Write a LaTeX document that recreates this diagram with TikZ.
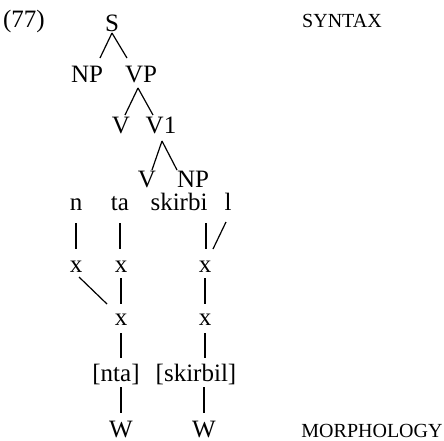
\documentclass[tikz,border=0pt]{standalone}
\usepackage{fontspec}
\setmainfont{Liberation Serif}

\begin{document}
\begin{tikzpicture}[x=0.5pt,y=-0.5pt,
    lab/.style = {inner sep=0pt,anchor=base,font=\fontsize{12.5}{15}\selectfont},
    lvl/.style = {inner sep=0pt,anchor=base,font=\fontsize{10}{12}\selectfont},
    br/.style  = {line width=0.6pt}]
\useasboundingbox (0,0) rectangle (444,440);
% syntax
\node[lab] (ex)   at (24,27)  {(77)};
\node[lab] (s)    at (112,31) {S};
\node[lab] (np)   at (87,82)  {NP};
\node[lab] (vp)   at (141,82) {VP};
\node[lab] (v)    at (121,133) {V};
\node[lab] (vbar) at (161,133) {V1};
\node[lab] (vv)   at (147,187) {V};
\node[lab] (npo)  at (193,187) {NP};
\node[lvl] (syn)  at (342,27) {SYNTAX};
\draw[br] ([shift={(0,2)}]s.base) -- ([shift={(13,-24)}]np.base);
\draw[br] ([shift={(0,2)}]s.base) -- ([shift={(-14,-24)}]vp.base);
\draw[br] ([shift={(-3,6)}]vp.base) -- ([shift={(4,-18)}]v.base);
\draw[br] ([shift={(-3,6)}]vp.base) -- ([shift={(-8,-18)}]vbar.base);
\draw[br] ([shift={(1,8)}]vbar.base) -- ([shift={(5,-17)}]vv.base);
\draw[br] ([shift={(1,8)}]vbar.base) -- ([shift={(-16,-17)}]npo.base);
% segments and skeleton
\foreach \nm/\px/\txt in {n/76/n, ta/120/ta, skirbi/179/skirbi, l/228/l}
    \node[lab] (\nm) at (\px,210) {\txt};
\foreach \nm/\px in {xn/76, xta/121, xsk/205}
    \node[lab] (\nm) at (\px,272) {x};
\foreach \nm/\px in {xnta/121, xskb/205}
    \node[lab] (\nm) at (\px,325) {x};
\node[lab] (nta) at (116,381) {[nta]};
\node[lab] (skb) at (196,381) {[skirbil]};
\node[lab] (wn)  at (121,437) {W};
\node[lab] (ws)  at (204,437) {W};
\node[lvl] (mor) at (372,437) {MORPHOLOGY};
\draw[br] ([shift={(0,13)}]n.base) -- ([shift={(0,-23)}]xn.base);
\draw[br] ([shift={(0,13)}]ta.base) -- ([shift={(-1,-23)}]xta.base);
\draw[br] ([shift={(1,13)}]skirbi.base -| xsk.base) -- ([shift={(1,-23)}]xsk.base);
\draw[br] ([shift={(-2,12)}]l.base) -- ([shift={(8,-23)}]xsk.base);
\draw[br] ([shift={(3,5)}]xn.base) -- ([shift={(-14,-21)}]xnta.base);
\draw[br] ([shift={(0,6)}]xta.base) -- ([shift={(0,-21)}]xnta.base);
\draw[br] ([shift={(0,6)}]xsk.base) -- ([shift={(0,-21)}]xskb.base);
\draw[br] ([shift={(0,8)}]xnta.base) -- ([shift={(0,-23)}]xnta.base |- nta.base);
\draw[br] ([shift={(0,8)}]xskb.base) -- ([shift={(0,-23)}]xskb.base |- skb.base);
\draw[br] ([shift={(0,6)}]wn.base |- nta.base) -- ([shift={(0,-24)}]wn.base);
\draw[br] ([shift={(0,6)}]ws.base |- skb.base) -- ([shift={(0,-24)}]ws.base);
\end{tikzpicture}
\end{document}
